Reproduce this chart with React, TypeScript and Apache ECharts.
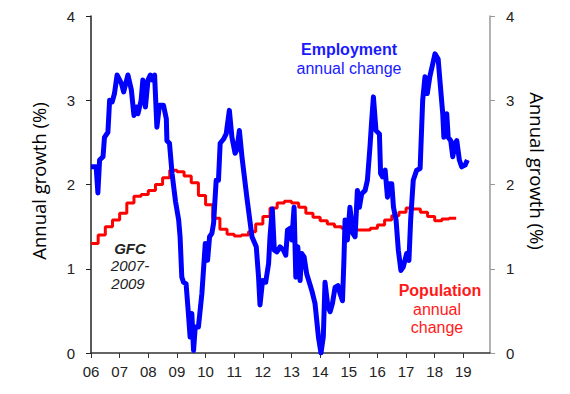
import React, { useEffect, useRef } from "react";
import * as echarts from "echarts";

// Employment annual change (%), irregular sample points (decimal year)
const empYears = [
  2006.0, 2006.18, 2006.24, 2006.3, 2006.42, 2006.47, 2006.59, 2006.65, 2006.74, 2006.82, 2006.91,
  2007.06, 2007.14, 2007.29, 2007.41, 2007.5, 2007.58, 2007.64, 2007.75, 2007.81, 2007.9, 2007.99,
  2008.07, 2008.14, 2008.22, 2008.3, 2008.39, 2008.53, 2008.63, 2008.65, 2008.74, 2008.83, 2008.95,
  2009.06, 2009.11, 2009.17, 2009.23, 2009.32, 2009.4, 2009.46, 2009.52, 2009.58, 2009.64, 2009.75, 2009.87, 2009.99,
  2010.07, 2010.14, 2010.22, 2010.28, 2010.37, 2010.45, 2010.51, 2010.63, 2010.72, 2010.83, 2010.92,
  2011.03, 2011.09, 2011.18, 2011.27, 2011.44, 2011.62, 2011.77, 2011.85, 2011.9, 2011.99,
  2012.1, 2012.2, 2012.25, 2012.33, 2012.4, 2012.49, 2012.6, 2012.72, 2012.8, 2012.86, 2012.95,
  2013.01, 2013.09, 2013.15, 2013.22, 2013.3, 2013.36, 2013.44, 2013.53, 2013.71, 2013.82, 2013.94,
  2014.03, 2014.11, 2014.17, 2014.27, 2014.35, 2014.43, 2014.52, 2014.62, 2014.7, 2014.78, 2014.83, 2014.87, 2014.95,
  2015.04, 2015.14, 2015.22, 2015.3, 2015.37, 2015.45, 2015.57, 2015.65, 2015.74, 2015.8, 2015.86, 2015.95,
  2016.07, 2016.11, 2016.18, 2016.27, 2016.35, 2016.42, 2016.5, 2016.56, 2016.65, 2016.73, 2016.82, 2016.9,
  2017.02, 2017.1, 2017.16, 2017.25, 2017.37, 2017.49, 2017.58, 2017.66, 2017.74, 2017.83, 2017.93,
  2018.01, 2018.12, 2018.18, 2018.28, 2018.32, 2018.42, 2018.47, 2018.56, 2018.63, 2018.71, 2018.77, 2018.86, 2018.94,
  2019.06, 2019.14,
];
const empValues = [
  2.21, 2.21, 1.9, 2.29, 2.33, 2.56, 2.62, 3.0, 2.98, 3.08, 3.3,
  3.2, 3.1, 3.3, 3.12, 2.82, 2.92, 2.84, 3.0, 3.24, 2.92, 3.24,
  3.3, 3.24, 3.3, 2.68, 2.94, 2.94, 2.78, 2.52, 2.49, 2.13, 1.8,
  1.58, 1.38, 0.9, 0.84, 0.82, 0.47, 0.19, 0.47, 0.03, 0.31, 0.31, 0.7, 1.3,
  1.1, 1.38, 1.42, 1.54, 2.05, 2.05, 2.49, 2.54, 2.6, 2.88, 2.56,
  2.37, 2.41, 2.64, 2.33, 1.85, 1.38, 1.26, 0.9, 0.57, 0.86,
  0.84, 1.06, 1.38, 1.71, 1.22, 1.2, 1.26, 1.22, 1.16, 1.46, 1.48,
  1.34, 1.73, 0.9, 1.26, 0.86, 1.18, 1.14, 0.94, 0.74, 0.59, 0.19,
  0.0, 0.19, 0.84, 0.55, 0.49, 0.59, 0.78, 0.8, 0.7, 0.62, 1.1, 1.58, 1.34,
  1.73, 1.42, 1.38, 1.93, 1.73, 1.89, 1.93, 2.05, 2.45, 2.76, 3.04, 2.64,
  2.6, 2.13, 2.09, 2.17, 1.85, 2.01, 2.01, 1.73, 1.58, 1.22, 0.98, 1.02,
  1.18, 1.1, 1.58, 2.05, 2.17, 2.19, 3.0, 3.28, 3.08, 3.28, 3.43,
  3.55, 3.49, 3.24, 2.84, 2.56, 2.84, 2.56, 2.52, 2.33, 2.49, 2.52, 2.29, 2.21,
  2.23, 2.29,
];

// Population annual change (%), quarterly
const popYears = [
  2006.0, 2006.25, 2006.5, 2006.75, 2007.0, 2007.25, 2007.5, 2007.75,
  2008.0, 2008.25, 2008.5, 2008.75, 2009.0, 2009.25, 2009.5, 2009.75,
  2010.0, 2010.25, 2010.5, 2010.75, 2011.0, 2011.25, 2011.5, 2011.75,
  2012.0, 2012.25, 2012.5, 2012.75, 2013.0, 2013.25, 2013.5, 2013.75,
  2014.0, 2014.25, 2014.5, 2014.75, 2015.0, 2015.25, 2015.5, 2015.75,
  2016.0, 2016.25, 2016.5, 2016.75, 2017.0, 2017.25, 2017.5, 2017.75,
  2018.0, 2018.25, 2018.5, 2018.75,
];
const popValues = [
  1.3, 1.4, 1.5, 1.58, 1.66, 1.78, 1.86, 1.88,
  1.93, 2.0, 2.08, 2.17, 2.15, 2.1, 2.02, 1.87,
  1.76, 1.6, 1.47, 1.41, 1.39, 1.4, 1.44, 1.53,
  1.62, 1.72, 1.78, 1.8, 1.78, 1.73, 1.66, 1.61,
  1.57, 1.53, 1.5, 1.48, 1.46, 1.46, 1.46, 1.48,
  1.52, 1.58, 1.63, 1.67, 1.72, 1.71, 1.67, 1.62,
  1.57, 1.59, 1.6, 1.6,
];

const yTicks = [0, 1, 2, 3, 4];
const axisTitle = "Annual growth (%)";

export default function App() {
  const ref = useRef<HTMLDivElement>(null);
  useEffect(() => {
    document.body.style.margin = "0";
    const chart = echarts.init(ref.current!, null, { renderer: "svg" });
    const font = "'Liberation Sans', Arial, sans-serif";
    const yAxisBase = {
      type: "value",
      min: yTicks[0],
      max: yTicks[yTicks.length - 1],
      interval: 1,
      splitLine: { show: false },
      axisTick: { show: true, length: 5 },
    };
    chart.setOption({
      animation: false,
      backgroundColor: "#ffffff",
      grid: { left: 91, right: 80, top: 16, bottom: 41 },
      xAxis: {
        type: "value",
        min: 2006,
        max: 2019.93,
        interval: 1,
        splitLine: { show: false },
        axisLine: { lineStyle: { color: "#333", width: 1.5 } },
        axisTick: { show: true, length: 5, lineStyle: { color: "#333" } },
        axisLabel: {
          margin: 11,
          fontSize: 15,
          fontFamily: font,
          color: "#222",
          showMaxLabel: false,
          formatter: (v: number) =>
            Math.abs(v - Math.round(v)) < 1e-6 ? String(Math.round(v) % 100).padStart(2, "0") : "",
        },
      },
      yAxis: [
        {
          ...yAxisBase,
          position: "left",
          axisLine: { show: true, lineStyle: { color: "#222", width: 1.5 } },
          axisTick: { show: true, length: 5, lineStyle: { color: "#222" } },
          axisLabel: { margin: 16, fontSize: 15, fontFamily: font, color: "#222" },
        },
        {
          ...yAxisBase,
          position: "right",
          axisLine: { show: true, lineStyle: { color: "#999", width: 1.5 } },
          axisTick: { show: true, length: 5, lineStyle: { color: "#999" } },
          axisLabel: { margin: 16, fontSize: 15, fontFamily: font, color: "#222" },
        },
      ],
      series: [
        {
          name: "Population",
          type: "line",
          step: "end",
          showSymbol: false,
          data: popYears.map((y, i) => [y, popValues[i]]),
          lineStyle: { color: "#ff0000", width: 3 },
          z: 2,
        },
        {
          name: "Employment",
          type: "line",
          showSymbol: false,
          data: empYears.map((y, i) => [y, empValues[i]]),
          lineStyle: { color: "#0000ff", width: 5, join: "round" },
          z: 3,
        },
      ],
      graphic: [
        {
          type: "text",
          x: 38,
          y: 181,
          rotation: Math.PI / 2,
          style: {
            text: axisTitle,
            font: "18.5px 'Open Sans', sans-serif",
            fill: "#000",
            align: "center",
            verticalAlign: "middle",
          },
        },
        {
          type: "text",
          x: 537,
          y: 171,
          rotation: -Math.PI / 2,
          style: {
            text: axisTitle,
            font: "18.5px 'Open Sans', sans-serif",
            fill: "#000",
            align: "center",
            verticalAlign: "middle",
          },
        },
        {
          type: "text",
          x: 349,
          y: 49,
          style: { text: "Employment", font: `bold 16px ${font}`, fill: "#1a1aff", align: "center", verticalAlign: "middle" },
        },
        {
          type: "text",
          x: 349,
          y: 68,
          style: { text: "annual change", font: `16px ${font}`, fill: "#1a1aff", align: "center", verticalAlign: "middle" },
        },
        {
          type: "text",
          x: 130,
          y: 248,
          style: { text: "GFC", font: `italic bold 15px ${font}`, fill: "#222", align: "center", verticalAlign: "middle" },
        },
        {
          type: "text",
          x: 130,
          y: 265,
          style: { text: "2007-", font: `italic 15px ${font}`, fill: "#222", align: "center", verticalAlign: "middle" },
        },
        {
          type: "text",
          x: 128,
          y: 283,
          style: { text: "2009", font: `italic 15px ${font}`, fill: "#222", align: "center", verticalAlign: "middle" },
        },
        {
          type: "text",
          x: 440,
          y: 290,
          style: { text: "Population", font: `bold 16px ${font}`, fill: "#ff1a1a", align: "center", verticalAlign: "middle" },
        },
        {
          type: "text",
          x: 437,
          y: 309,
          style: { text: "annual", font: `16px ${font}`, fill: "#ff1a1a", align: "center", verticalAlign: "middle" },
        },
        {
          type: "text",
          x: 437,
          y: 327,
          style: { text: "change", font: `16px ${font}`, fill: "#ff1a1a", align: "center", verticalAlign: "middle" },
        },
      ],
    });
    return () => chart.dispose();
  }, []);
  return <div ref={ref} style={{ width: 570, height: 394 }} />;
}
